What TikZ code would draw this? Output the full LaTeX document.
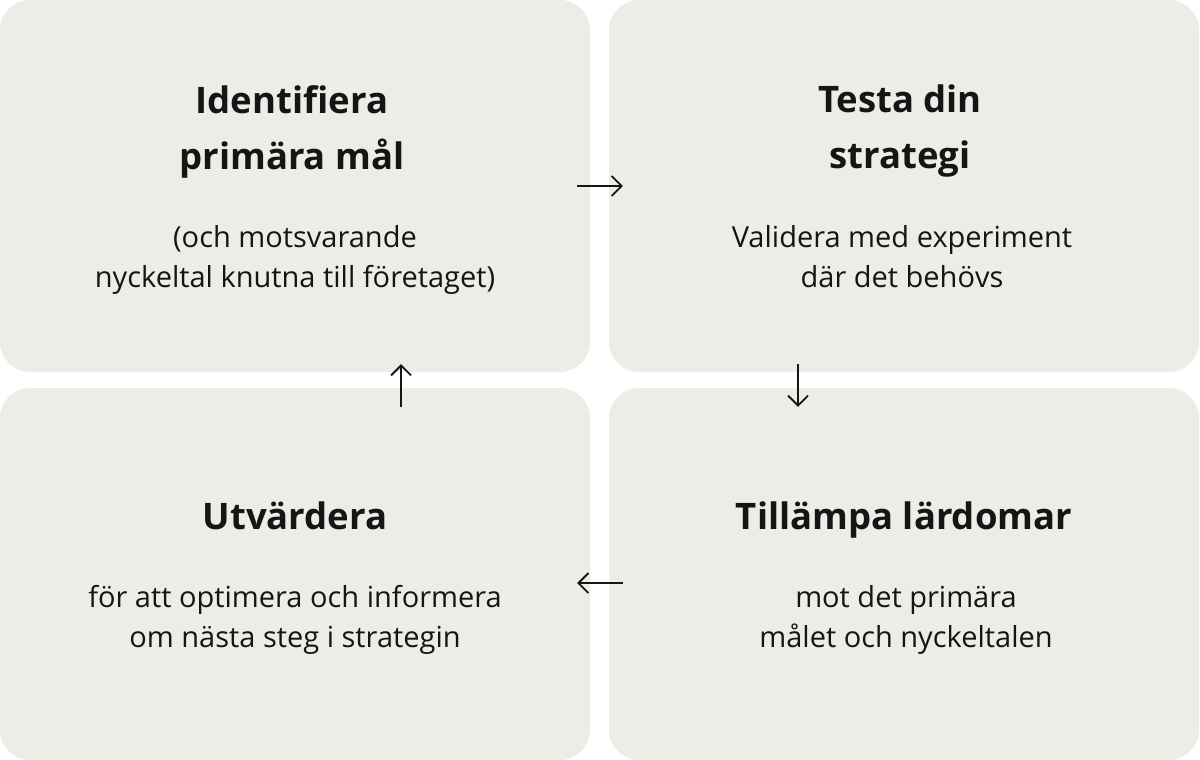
\documentclass[tikz,border=0pt]{standalone}
\usepackage{fontspec}
\setmainfont{Open Sans}
\usetikzlibrary{arrows.meta}
\definecolor{cardgray}{HTML}{EDEDE8}
\definecolor{ink}{HTML}{151515}
\begin{document}
\begin{tikzpicture}[x=1pt, y=-1pt,
        card/.style={rectangle, fill=cardgray, rounded corners=30pt,
            minimum width=590pt, minimum height=372pt, inner sep=0pt},
        title/.style={anchor=north, align=center, inner sep=0pt, text=ink,
            font=\fontsize{36.5}{56}\selectfont\bfseries},
        desc/.style={anchor=north, align=center, inner sep=0pt, text=ink,
            font=\fontsize{29}{40}\selectfont},
        flow/.style={-{Straight Barb[length=10pt, width=20pt]}, line width=1.8pt, draw=ink}]
    \useasboundingbox (0,0) rectangle (1200,760);

    \node[card] (ident) at (295,186) {};
    \node[card] (test)  at (904,186) {};
    \node[card] (eval)  at (295,574) {};
    \node[card] (apply) at (904,574) {};

    \node[title] (identT) at (292,85) {Identifiera\\primära mål};
    \node[desc]  (identD) at (295,225) {(och motsvarande\\nyckeltal knutna till företaget)};

    \node[title] (testT) at (900,85) {Testa din\\strategi};
    \node[desc]  (testD) at (902,225) {Validera med experiment\\där det behövs};

    \node[title] (evalT) at (295,502) {Utvärdera};
    \node[desc]  (evalD) at (295,585) {för att optimera och informera\\om nästa steg i strategin};

    \node[title] (applyT) at (904,502) {Tillämpa lärdomar};
    \node[desc]  (applyD) at (906,585) {mot det primära\\målet och nyckeltalen};

    \draw [flow]
        ([xshift=-13pt]ident.east) -- ([xshift=14pt]test.west);
    \draw [flow]
        ([shift={(-106pt,8pt)}]test.south) -- ([shift={(-106pt,-19pt)}]apply.north);
    \draw [flow]
        ([shift={(14pt,-9pt)}]apply.west) -- ([shift={(-13pt,-9pt)}]eval.east);
    \draw [flow]
        ([shift={(106pt,-19pt)}]eval.north) -- ([shift={(106pt,8pt)}]ident.south);
\end{tikzpicture}
\end{document}
